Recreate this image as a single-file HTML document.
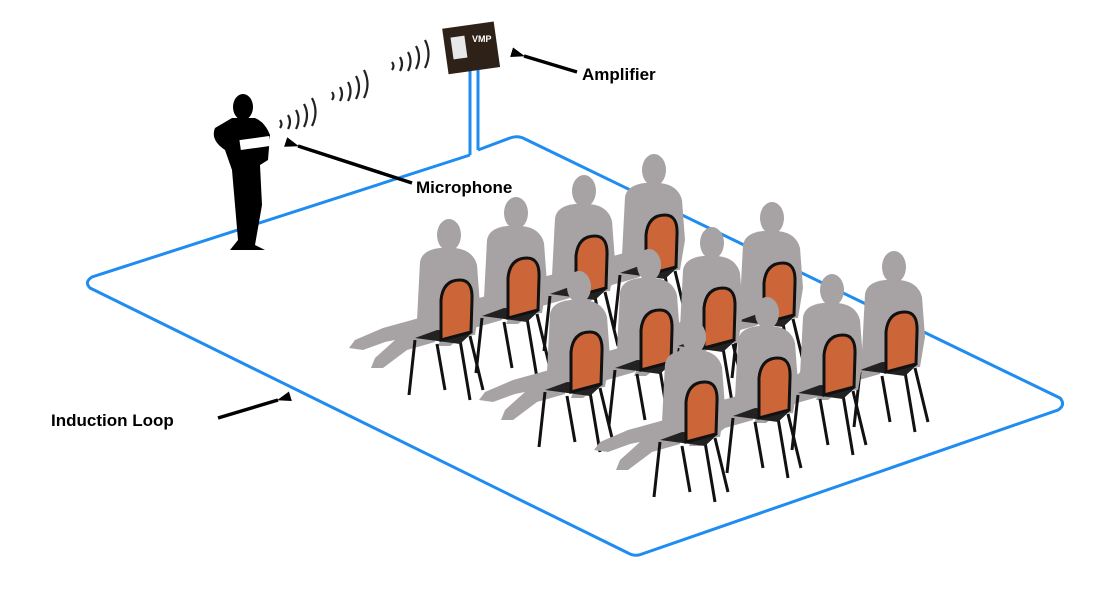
<!DOCTYPE html>
<html><head><meta charset="utf-8"><style>
html,body{margin:0;padding:0;background:#fff;}
svg{display:block;}
text{font-family:"Liberation Sans",Arial,sans-serif;font-weight:bold;font-size:17px;fill:#000;}
</style></head><body>
<svg width="1097" height="593" viewBox="0 0 1097 593" xmlns="http://www.w3.org/2000/svg">
<defs>
<marker id="ah" markerWidth="14" markerHeight="10" refX="1" refY="5" orient="auto" markerUnits="userSpaceOnUse">
<path d="M14,0 L0,5 L14,10 Z" fill="#000"/>
</marker>
<g id="p">
  <!-- legs of person -->
  <path d="M-25,5 L-72,18 L-100,30 L-106,38 L-92,40 L-70,32 L-60,30 L-80,48 L-84,58 L-72,58 L-48,40 L-20,32 Z" fill="#a7a3a5"/>
  <!-- torso -->
  <path d="M-35,-48 Q-33,-60 -15,-62 L0,-62 Q18,-60 22,-45 L25,-5 L20,25 L-25,28 L-38,10 Z" fill="#a7a3a5"/>
  <ellipse cx="-6" cy="-75" rx="12" ry="16" fill="#a7a3a5"/>
  <!-- chair legs -->
  <g stroke="#111" stroke-width="3" fill="none">
    <line x1="-40" y1="30" x2="-46" y2="85"/>
    <line x1="-18" y1="34" x2="-10" y2="80"/>
    <line x1="5" y1="30" x2="15" y2="90"/>
    <line x1="15" y1="26" x2="28" y2="80"/>
  </g>
  <path d="M-40,28 L-18,20 L18,22 L5,34 Z" fill="#222"/>
  <!-- chair back -->
  <path d="M-14,30 L-14,-10 Q-12,-30 5,-30 Q18,-30 17,-10 L16,22 Z" fill="#cc6639" stroke="#111" stroke-width="3"/>
</g>
</defs>

<!-- loop -->
<path d="M470,155 L92,277 Q84,282 90,288 L628,553 Q635,557 642,554 L1058,410 Q1066,405 1060,398 L525,139 Q518,135 510,138 L478,150" fill="none" stroke="#1e8cf0" stroke-width="3"/>
<line x1="470" y1="70" x2="470" y2="155" stroke="#1e8cf0" stroke-width="3"/>
<line x1="478" y1="70" x2="478" y2="150" stroke="#1e8cf0" stroke-width="3"/>

<!-- amplifier -->
<rect x="445" y="25" width="52" height="46" fill="#2e2218" transform="rotate(-8 470 47)"/>
<rect x="452" y="35" width="14" height="22" fill="#e8e8e8" transform="rotate(-8 470 47)"/>
<text x="472" y="42" style="font-size:9px;fill:#fff">VMP</text>

<!-- speaker -->
<g fill="#000">
  <ellipse cx="243" cy="107" rx="10" ry="13"/>
  <path d="M232,118 L255,118 Q265,122 270,135 L268,160 L260,165 L262,205 L255,245 L265,250 L230,250 L238,240 L235,205 L232,170 L225,150 Q210,140 215,128 Z"/>
</g>
<rect x="240" y="138" width="30" height="10" fill="#fff" transform="rotate(-8 255 143)"/>

<!-- sound waves -->
<g fill="none" stroke="#222" stroke-width="2.2">
  <path d="M280,120 q3,4 0,8"/><path d="M288,115 q4,7 0,14"/><path d="M296,110 q5,9 0,19"/>
  <path d="M304,104 q6,11 0,23"/><path d="M312,98 q7,14 0,28"/>
  <path d="M332,92 q3,4 0,8"/><path d="M340,87 q4,7 0,14"/><path d="M348,82 q5,9 0,19"/>
  <path d="M356,76 q6,11 0,23"/><path d="M364,70 q7,14 0,28"/>
  <path d="M392,62 q3,4 0,8"/><path d="M400,57 q4,7 0,14"/><path d="M408,52 q5,9 0,19"/>
  <path d="M416,46 q6,11 0,23"/><path d="M425,40 q7,14 0,28"/>
</g>

<!-- audience -->
<use href="#p" x="660" y="245"/>
<use href="#p" x="590" y="266"/>
<use href="#p" x="522" y="288"/>
<use href="#p" x="455" y="310"/>
<use href="#p" x="778" y="293"/>
<use href="#p" x="718" y="318"/>
<use href="#p" x="655" y="340"/>
<use href="#p" x="585" y="362"/>
<use href="#p" x="900" y="342"/>
<use href="#p" x="838" y="365"/>
<use href="#p" x="773" y="388"/>
<use href="#p" x="700" y="412"/>

<!-- arrows -->
<g stroke="#000" stroke-width="3.5">
  <line x1="577" y1="72" x2="524" y2="56" marker-end="url(#ah)"/>
  <line x1="412" y1="183" x2="298" y2="146" marker-end="url(#ah)"/>
  <line x1="218" y1="418" x2="278" y2="400" marker-end="url(#ah)"/>
</g>
<text x="582" y="80">Amplifier</text>
<text x="416" y="193">Microphone</text>
<text x="51" y="426">Induction Loop</text>
</svg>
</body></html>
